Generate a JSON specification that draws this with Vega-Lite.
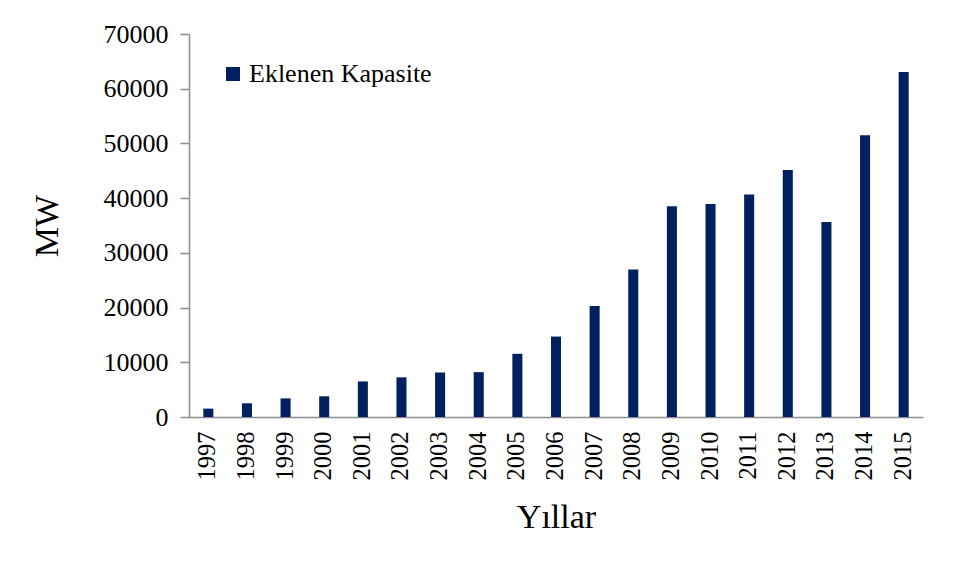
{
  "$schema": "https://vega.github.io/schema/vega-lite/v6.json",
  "width": 734,
  "height": 383,
  "autosize": {"type": "none"},
  "padding": {"left": 189, "top": 34, "right": 37, "bottom": 163},
  "background": "white",
  "config": {
    "view": {"stroke": null},
    "font": "Liberation Serif"
  },
  "data": {
    "values": [
      {"year": "1997", "mw": 1530, "series": "Eklenen Kapasite"},
      {"year": "1998", "mw": 2500, "series": "Eklenen Kapasite"},
      {"year": "1999", "mw": 3400, "series": "Eklenen Kapasite"},
      {"year": "2000", "mw": 3780, "series": "Eklenen Kapasite"},
      {"year": "2001", "mw": 6500, "series": "Eklenen Kapasite"},
      {"year": "2002", "mw": 7250, "series": "Eklenen Kapasite"},
      {"year": "2003", "mw": 8150, "series": "Eklenen Kapasite"},
      {"year": "2004", "mw": 8200, "series": "Eklenen Kapasite"},
      {"year": "2005", "mw": 11550, "series": "Eklenen Kapasite"},
      {"year": "2006", "mw": 14700, "series": "Eklenen Kapasite"},
      {"year": "2007", "mw": 20300, "series": "Eklenen Kapasite"},
      {"year": "2008", "mw": 26950, "series": "Eklenen Kapasite"},
      {"year": "2009", "mw": 38500, "series": "Eklenen Kapasite"},
      {"year": "2010", "mw": 38950, "series": "Eklenen Kapasite"},
      {"year": "2011", "mw": 40650, "series": "Eklenen Kapasite"},
      {"year": "2012", "mw": 45150, "series": "Eklenen Kapasite"},
      {"year": "2013", "mw": 35650, "series": "Eklenen Kapasite"},
      {"year": "2014", "mw": 51500, "series": "Eklenen Kapasite"},
      {"year": "2015", "mw": 63050, "series": "Eklenen Kapasite"}
    ]
  },
  "mark": {"type": "bar"},
  "encoding": {
    "x": {
      "field": "year",
      "type": "ordinal",
      "scale": {"paddingInner": 0.74, "paddingOuter": 0.37},
      "axis": {
        "title": "Yıllar",
        "titleFont": "Liberation Serif",
        "titleFontSize": 34,
        "titleFontWeight": "normal",
        "titleColor": "black",
        "titlePadding": 20,
        "labelAngle": -90,
        "labelFont": "Liberation Serif",
        "labelFontSize": 24.5,
        "labelColor": "black",
        "labelPadding": 14,
        "ticks": false,
        "domainColor": "#8c8c8c",
        "domainWidth": 1.5
      }
    },
    "y": {
      "field": "mw",
      "type": "quantitative",
      "scale": {"domain": [0, 70000]},
      "axis": {
        "title": "MW",
        "titleFont": "Liberation Serif",
        "titleFontSize": 34,
        "titleFontWeight": "normal",
        "titleColor": "black",
        "titlePadding": 39,
        "values": [0, 10000, 20000, 30000, 40000, 50000, 60000, 70000],
        "format": "d",
        "labelFont": "Liberation Serif",
        "labelFontSize": 26,
        "labelColor": "black",
        "labelPadding": 12,
        "tickSize": 9,
        "tickColor": "#8c8c8c",
        "tickWidth": 1.5,
        "domainColor": "#8c8c8c",
        "domainWidth": 1.5,
        "grid": false
      }
    },
    "color": {
      "field": "series",
      "type": "nominal",
      "scale": {"range": ["#002060"]},
      "legend": {
        "title": null,
        "orient": "none",
        "legendX": 31,
        "legendY": 27,
        "symbolType": "square",
        "symbolSize": 196,
        "symbolStrokeWidth": 0,
        "labelFont": "Liberation Serif",
        "labelFontSize": 26,
        "labelColor": "black",
        "labelOffset": 3,
        "labelLimit": 500
      }
    }
  }
}
